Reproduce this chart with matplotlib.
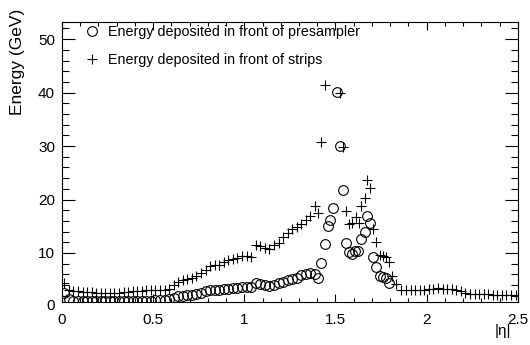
import numpy as np
import matplotlib
matplotlib.use('Agg')
from matplotlib import pyplot as plt
from matplotlib.ticker import MultipleLocator
import matplotlib.transforms as mtransforms

plt.rcParams['font.family'] = ['Liberation Sans', 'DejaVu Sans']

# energy deposited in front of the strips (crosses)
eta_strips = [0.0125, 0.0375, 0.0625, 0.0875, 0.1125, 0.1375, 0.1625, 0.1875, 0.2125, 0.2375,
              0.2625, 0.2875, 0.3125, 0.3375, 0.3625, 0.3875, 0.4125, 0.4375, 0.4625, 0.4875,
              0.5125, 0.5375, 0.5625, 0.5875, 0.6125, 0.6375, 0.6625, 0.6875, 0.7125, 0.7375,
              0.7625, 0.7875, 0.8125, 0.8375, 0.8625, 0.8875, 0.9125, 0.9375, 0.9625, 0.9875,
              1.0125, 1.0375, 1.0625, 1.0875, 1.1125, 1.1375, 1.1625, 1.1875, 1.2125, 1.2375,
              1.2625, 1.2875, 1.3125, 1.3375, 1.3625, 1.3875, 1.405, 1.423, 1.441, 1.527,
              1.540, 1.557, 1.573, 1.593, 1.611, 1.627, 1.641, 1.660, 1.673, 1.692,
              1.706, 1.724, 1.742, 1.761, 1.775, 1.793, 1.812, 1.834, 1.860, 1.8875,
              1.9125, 1.9375, 1.9625, 1.9875, 2.0125, 2.0375, 2.0625, 2.0875, 2.1125, 2.1375,
              2.1625, 2.1875, 2.2125, 2.2375, 2.2625, 2.2875, 2.3125, 2.3375, 2.3625, 2.3875,
              2.4125, 2.4375, 2.4625, 2.4875]
e_strips = [4.3, 3.0, 2.8, 2.8, 2.7, 2.7, 2.7, 2.6, 2.6, 2.6,
            2.6, 2.6, 2.6, 2.7, 2.7, 2.8, 2.8, 2.9, 3.0, 3.0,
            3.1, 3.1, 3.1, 3.2, 4.0, 4.5, 4.9, 5.1, 5.4, 5.6,
            6.2, 6.9, 7.5, 7.8, 7.8, 8.3, 8.6, 8.8, 9.1, 9.4,
            9.5, 9.3, 11.5, 11.3, 11.0, 10.8, 11.4, 11.9, 12.9, 13.8,
            14.5, 14.9, 15.4, 16.1, 16.9, 18.8, 17.4, 30.8, 41.4, 40.0,
            29.9, 17.9, 15.5, 15.7, 16.7, 15.7, 18.7, 20.3, 23.6, 22.1,
            14.4, 12.0, 9.6, 9.4, 9.3, 8.4, 5.7, 4.2, 3.1, 3.0,
            3.0, 3.0, 3.1, 3.1, 3.2, 3.3, 3.4, 3.3, 3.3, 3.2,
            3.0, 2.8, 2.6, 2.4, 2.3, 2.3, 2.4, 2.3, 2.2, 2.2,
            2.2, 2.2, 2.1, 2.2]

# energy deposited in front of the presampler (circles)
eta_presampler = [0.0125, 0.0375, 0.0625, 0.0875, 0.1125, 0.1375, 0.1625, 0.1875, 0.2125, 0.2375,
                  0.2625, 0.2875, 0.3125, 0.3375, 0.3625, 0.3875, 0.4125, 0.4375, 0.4625, 0.4875,
                  0.5125, 0.5375, 0.5625, 0.5875, 0.6125, 0.6375, 0.6625, 0.6875, 0.7125, 0.7375,
                  0.7625, 0.7875, 0.8125, 0.8375, 0.8625, 0.8875, 0.9125, 0.9375, 0.9625, 0.9875,
                  1.0125, 1.0375, 1.0625, 1.0875, 1.1125, 1.1375, 1.1625, 1.1875, 1.2125, 1.2375,
                  1.2625, 1.2875, 1.3125, 1.3375, 1.3625, 1.3875, 1.405, 1.423, 1.441, 1.460,
                  1.470, 1.488, 1.509, 1.523, 1.540, 1.557, 1.573, 1.590, 1.608, 1.626,
                  1.641, 1.660, 1.672, 1.690, 1.705, 1.724, 1.742, 1.758, 1.775, 1.793]
e_presampler = [2.6, 1.4, 1.1, 1.0, 1.0, 1.0, 1.0, 1.0, 1.0, 1.0,
                1.0, 1.0, 1.0, 1.0, 1.0, 1.1, 1.1, 1.1, 1.1, 1.1,
                1.2, 1.2, 1.2, 1.3, 1.6, 1.9, 2.0, 2.1, 2.2, 2.3,
                2.6, 2.8, 3.0, 3.1, 3.1, 3.2, 3.3, 3.4, 3.5, 3.6,
                3.7, 3.7, 4.3, 4.2, 4.0, 3.9, 4.1, 4.4, 4.6, 4.9,
                5.2, 5.4, 5.8, 6.0, 6.2, 6.1, 5.3, 8.1, 11.7, 15.0,
                16.2, 18.4, 40.2, 30.1, 21.8, 11.9, 10.1, 9.8, 10.4, 10.4,
                12.6, 14.0, 16.9, 15.7, 9.3, 7.4, 5.6, 5.5, 5.3, 4.4]

fig = plt.figure(figsize=(5.3, 3.45), dpi=100)
ax = fig.add_axes([0.117, 0.125, 0.860, 0.811])

ax.plot(eta_presampler, e_presampler, linestyle='none', marker='o', mfc='none', mec='k',
        ms=7, mew=0.8, label='Energy deposited in front of presampler')
ax.plot(eta_strips, e_strips, linestyle='none', marker='+', color='k',
        ms=7.5, mew=0.8, label='Energy deposited in front of strips')

ax.set_xlim(0, 2.5)
ax.set_ylim(0.85, 53.2)

# ROOT-like axes: ticks inside on all four sides
ax.xaxis.set_major_locator(MultipleLocator(0.5))
ax.xaxis.set_minor_locator(MultipleLocator(0.1))
ax.yaxis.set_major_locator(MultipleLocator(10))
ax.yaxis.set_minor_locator(MultipleLocator(2))
ax.tick_params(which='both', direction='in', top=True, right=True, width=0.8, labelsize=11)
ax.tick_params(axis='x', which='major', length=6, pad=8)
ax.tick_params(axis='x', which='minor', length=3)
ax.tick_params(axis='y', which='major', length=9.5, pad=5)
ax.tick_params(axis='y', which='minor', length=4.7)
ax.xaxis.set_major_formatter(matplotlib.ticker.FuncFormatter(lambda v, p: '%g' % v))
for s in ax.spines.values():
    s.set_linewidth(0.8)

# the y "0" label sits just below the frame
trans = mtransforms.blended_transform_factory(ax.transAxes, ax.transData)
ax.text(-0.015, 0, '0', transform=trans, ha='right', va='center', fontsize=11, clip_on=False)

fig.text(18 / 530, 1 - 9 / 345, 'Energy (GeV)', rotation=90, ha='center', va='top', fontsize=12.5)
fig.text(511 / 530, 1 - 331 / 345, '|η|', ha='right', va='center', fontsize=11)

ax.legend(loc='upper left', bbox_to_anchor=(0.025, 1.025), frameon=False, fontsize=10.3,
          handlelength=1.2, handletextpad=0.5, labelspacing=0.95, borderaxespad=0.3)

plt.savefig('out.png', dpi=100)
